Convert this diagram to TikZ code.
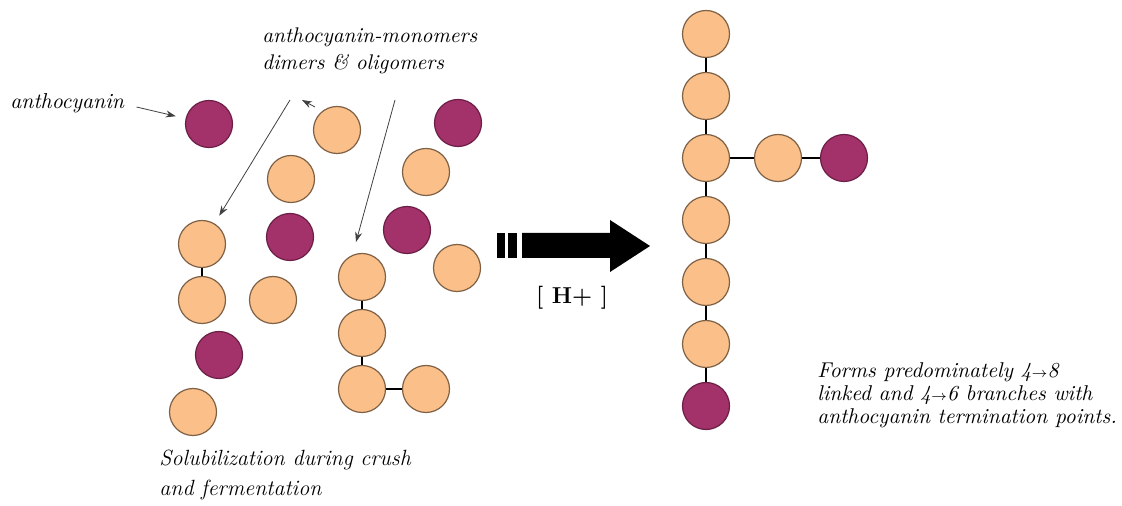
\documentclass[tikz,border=0pt]{standalone}
\usepackage{tikz}
\usetikzlibrary{positioning, arrows.meta}

\definecolor{peach}{HTML}{FBC08A}
\definecolor{peachrim}{HTML}{7E6044}
\definecolor{plum}{HTML}{A3316A}
\definecolor{plumrim}{HTML}{6C1F46}

\begin{document}
\begin{tikzpicture}[x=0.5pt, y=-0.5pt, on grid, node distance=28pt,
    mono/.style={circle, draw=peachrim, line width=0.6pt, fill=peach, minimum size=23.5pt, inner sep=0pt},
    antho/.style={circle, draw=plumrim, line width=0.6pt, fill=plum, minimum size=23.5pt, inner sep=0pt},
    bond/.style={line width=1.3pt},
    pointer/.style={-{Stealth[length=5pt, width=3.5pt]}, line width=0.4pt, draw=black!75},
    lbl/.style={font=\fontsize{10.6}{13.5}\selectfont\itshape, align=left, inner sep=0pt, anchor=west}]
  \useasboundingbox (0,0) rectangle (1122,506);

  % loose pigments and tannins
  \node[antho] (a1) at (209,124) {};
  \node[antho] (a2) at (458,123) {};
  \node[antho] (a3) at (290,237) {};
  \node[antho] (a4) at (407,230) {};
  \node[antho] (a5) at (219,355) {};
  \node[mono] (m1) at (337,130) {};
  \node[mono] (m2) at (291,179) {};
  \node[mono] (m3) at (426,172) {};
  \node[mono] (m6) at (457,268) {};
  \node[mono] (m7) at (273,300) {};
  \node[mono] (m8) at (193,412) {};

  % dimer
  \node[mono] (m4) at (202,244) {};
  \node[mono] (m5) [below=of m4] {};

  % small branched oligomer
  \node[mono] (k1) at (362,277) {};
  \node[mono] (k2) [below=of k1] {};
  \node[mono] (k3) [below=of k2] {};
  \node[mono] (k4) [right=32pt of k3] {};

  % polymer after reaction
  \node[mono] (r1) at (706,34) {};
  \node[mono] (r2) [below=31pt of r1] {};
  \node[mono] (r3) [below=31pt of r2] {};
  \node[mono] (r4) [below=31pt of r3] {};
  \node[mono] (r5) [below=31pt of r4] {};
  \node[mono] (r6) [below=31pt of r5] {};
  \node[antho] (r7) [below=31pt of r6] {};
  \node[mono] (b1) [right=36pt of r3] {};
  \node[antho] (b2) [right=33pt of b1] {};

  \foreach \u/\v in {m4/m5, k1/k2, k2/k3, k3/k4, r1/r2, r2/r3, r3/r4, r4/r5, r5/r6, r6/r7, r3/b1, b1/b2}
    \draw[bond] (\u) -- (\v);

  % labels
  \node[lbl, font=\fontsize{10.8}{13.5}\selectfont\itshape] (antlbl) at (10,103) {anthocyanin};
  \node[lbl] (monlbl) at (262,51) {anthocyanin-monomers\\dimers \& oligomers};
  \node[lbl, font=\fontsize{11}{15}\selectfont\itshape] (sollbl) at (159,475) {Solubilization during crush\\and fermentation};
  \node[lbl, font=\fontsize{10.7}{11.5}\selectfont\itshape] (formlbl) at (817,395)
    {Forms predominately 4{\scriptsize$\rightarrow$}8\\linked and 4{\scriptsize$\rightarrow$}6 branches with\\anthocyanin termination points.};
  \node[font=\fontsize{11.5}{13}\selectfont\bfseries] (hlbl) at (572,298) {[ H+ ]};

  % pointers
  \coordinate (p1) at (290,100);
  \coordinate (p2) at (395,100);
  \coordinate (t2) at (356,242);
  \coordinate (p3) at (315,107);
  \coordinate (t3) at (302,100);
  \draw[pointer, shorten >=5pt] ([xshift=6pt,yshift=-2pt]antlbl.east) -- (a1);
  \draw[pointer, shorten >=4.5pt] (p1) -- (m4);
  \draw[pointer] (p2) -- (t2);
  \draw[pointer] (p3) -- (t3);

  % reaction arrow
  \fill (497,233) rectangle (505,258);
  \fill (508,233) rectangle (517,258);
  \fill (522,233) -- (610,233) -- (610,220) -- (650,246) -- (610,272) -- (610,258) -- (522,258) -- cycle;
\end{tikzpicture}
\end{document}
